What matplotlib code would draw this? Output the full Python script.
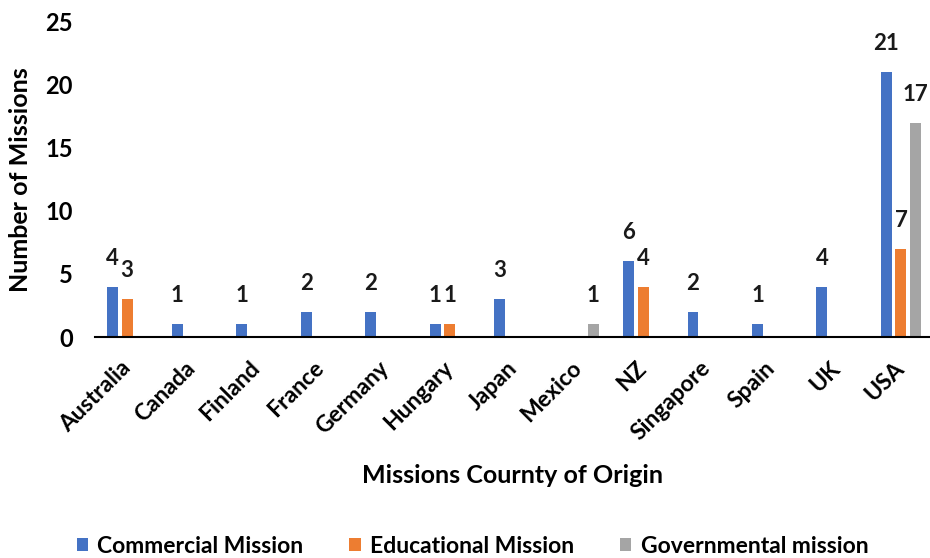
import numpy as np
import matplotlib
matplotlib.use('Agg')
import matplotlib.pyplot as plt

countries = ['Australia', 'Canada', 'Finland', 'France', 'Germany', 'Hungary',
             'Japan', 'Mexico', 'NZ', 'Singapore', 'Spain', 'UK', 'USA']
commercial = [4, 1, 1, 2, 2, 1, 3, 0, 6, 2, 1, 4, 21]
educational = [3, 0, 0, 0, 0, 1, 0, 0, 4, 0, 0, 0, 7]
governmental = [0, 0, 0, 0, 0, 0, 0, 1, 0, 0, 0, 0, 17]

series = [('Commercial Mission', commercial, '#4472C4'),
          ('Educational Mission', educational, '#ED7D31'),
          ('Governmental mission', governmental, '#A5A5A5')]

plt.rcParams['font.family'] = ['Lato', 'DejaVu Sans']
plt.rcParams['font.weight'] = 'bold'

fig = plt.figure(figsize=(9.3, 5.58), dpi=100)
ax = fig.add_axes([0.102, 0.396, 0.898, 0.565])

x = np.arange(len(countries))
width = 0.17
step = 0.225

for i, (name, vals, color) in enumerate(series):
    pos = x + (i - 1) * step
    ax.bar(pos, vals, width, color=color, label=name)
    # value labels, zero values left out
    for p, v in zip(pos, vals):
        if v > 0:
            ax.annotate(str(v), (p, v), xytext=(0, 13), textcoords='offset points',
                        ha='center', va='bottom', fontsize=16, fontweight='bold',
                        color='#1a1a1a')

ax.set_xlim(-0.5, 12.45)
ax.set_ylim(0, 25)
ax.set_yticks([0, 5, 10, 15, 20, 25])
ax.set_xticks(x)
ax.set_xticklabels(countries, rotation=45, ha='right', va='center',
                   rotation_mode='anchor', fontsize=16.5, fontweight='bold')
ax.tick_params(axis='y', labelsize=17, length=0, pad=16)
ax.tick_params(axis='x', length=0, pad=20)
for s in ['top', 'right', 'left']:
    ax.spines[s].set_visible(False)
ax.spines['bottom'].set_linewidth(1.5)

ax.set_ylabel('Number of Missions', fontsize=18, fontweight='bold')
ax.yaxis.set_label_coords(-0.075, 0.5)
ax.set_xlabel('Missions Cournty of Origin', fontsize=18, fontweight='bold')
ax.xaxis.set_label_coords(0.5, -0.403)

fig.legend(loc='center', bbox_to_anchor=(0.508, 0.0215), ncol=3, frameon=False,
           handlelength=0.5, handleheight=0.5, columnspacing=2.0, handletextpad=0.4,
           prop={'size': 16.5, 'weight': 'bold'})

fig.savefig('out.png', dpi=100)
